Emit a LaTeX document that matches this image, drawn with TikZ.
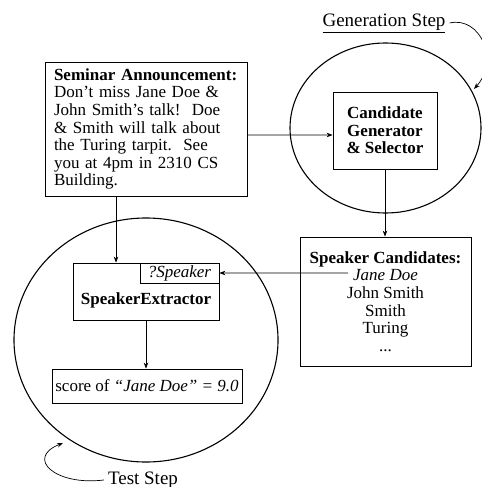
\documentclass[tikz,border=0pt]{standalone}
\usepackage{fontspec}
\setmainfont{Liberation Serif}
\usetikzlibrary{arrows.meta,shapes.geometric}
\begin{document}
\begin{tikzpicture}[x=1bp,y=-1bp,
  every node/.style={font=\fontsize{17bp}{17.6bp}\selectfont},
  box/.style={draw,line width=0.8bp,inner sep=0pt},
  ring/.style={draw,ellipse,line width=1.1bp,inner sep=0pt},
  arr/.style={line width=0.7bp,-{Stealth[length=6bp,width=4.5bp]}},
  lbl/.style={font=\fontsize{19bp}{20bp}\selectfont,inner sep=0pt}]
\useasboundingbox (0,0) rectangle (482,487);
% circles
\node[ring,minimum width=191bp,minimum height=170bp] (gen) at (385.5,128) {};
\node[ring,minimum width=264bp,minimum height=244bp] (test) at (146,340) {};
% seminar announcement
\node[box,minimum width=202bp,minimum height=134bp,text width=184bp,align=left,inner xsep=9bp] (sem) at (146,129)
 {\textbf{Seminar Announcement:}\\Don’t miss Jane Doe \&\\John Smith’s talk!\ \ Doe\\\& Smith will talk about\\the Turing tarpit.\ \ See\\you at 4pm in 2310 CS\\Building.};
% candidate generator
\node[box,minimum width=104bp,minimum height=77bp,align=center,font=\fontsize{17bp}{17.6bp}\selectfont\bfseries] (cand) at (385,130.5)
 {Candidate\\Generator\\\& Selector};
% speaker candidates
\node[box,minimum width=171bp,minimum height=129bp,align=center] (spk) at (385.5,301.5)
 {\textbf{Speaker Candidates:}\\\textit{Jane Doe}\\John Smith\\Smith\\Turing\\...};
\coordinate (jd) at (348,273);
% speaker extractor
\node[box,minimum width=146bp,minimum height=57bp] (ext) at (146,291.5) {};
\node[inner sep=0pt,font=\fontsize{17bp}{17.6bp}\selectfont\bfseries] (extlbl) at (146,300) {SpeakerExtractor};
\node[box,anchor=north east,minimum width=79bp,minimum height=20bp] (q) at (ext.north east) {\textit{?Speaker}};
% score
\node[box,minimum width=190bp,minimum height=34bp] (score) at (147,386) {score of \textit{“Jane Doe” = 9.0}};
% connectors
\draw[arr] ([yshift=-6bp]sem.east) -- ([yshift=-4.5bp]cand.west);
\draw[arr] (cand.south) -- (cand.south |- spk.north);
\draw[arr] ([xshift=-30bp]sem.south) -- ([xshift=-30bp]ext.north);
\draw[arr] (jd) -- (q.east);
\draw[arr] (ext.south) -- (ext.south |- score.north);
% step labels
\node[lbl] (genlbl) at (384,23) {\underline{Generation Step}};
\coordinate (gentip) at (474,89);
\draw[arr] ([xshift=4bp]genlbl.east) .. controls (480,16) and (500,60) .. (gentip);
\node[lbl] (testlbl) at (143,480) {Test Step};
\coordinate (testtip) at (63,443);
\draw[arr] ([xshift=-4bp]testlbl.west) .. controls (55,486) and (25,458) .. (testtip);
\end{tikzpicture}
\end{document}
